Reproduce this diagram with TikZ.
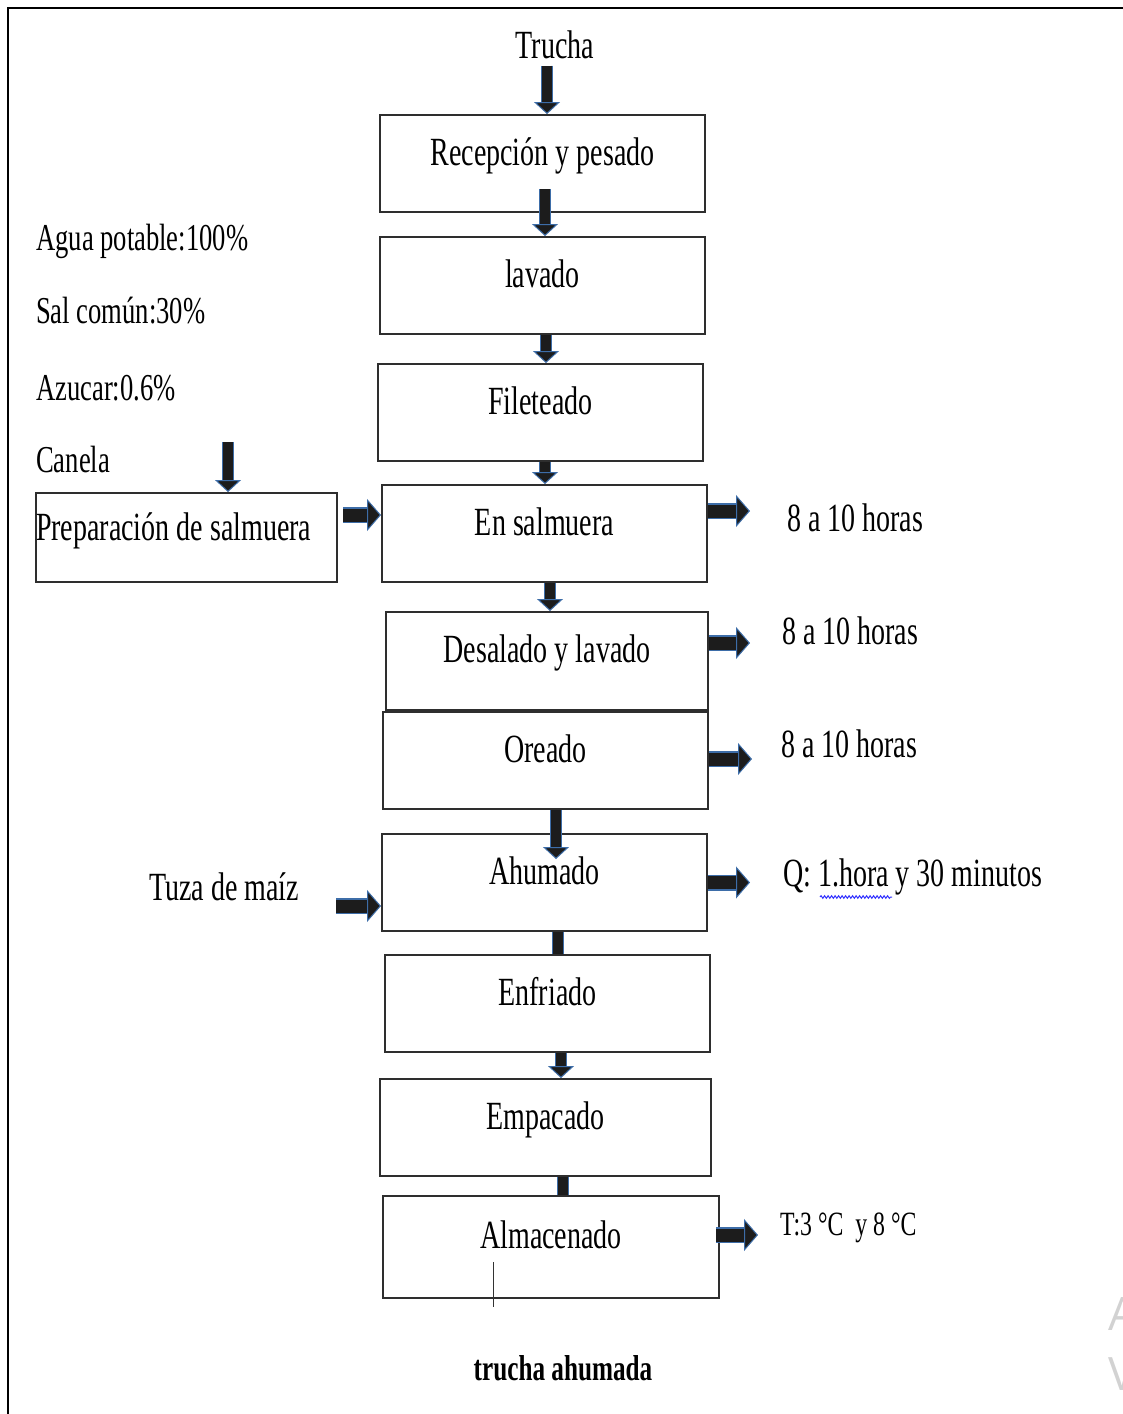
\documentclass[tikz,border=0pt]{standalone}
\usepackage{fontspec}
\setmainfont{Liberation Serif}[FakeStretch=0.7]
\newfontfamily\marcaagua{Open Sans}
\usetikzlibrary{arrows.meta, positioning, decorations.pathmorphing}
\definecolor{negroflecha}{HTML}{1C1C1C}
\definecolor{bordeazul}{HTML}{3D6DA8}
\definecolor{bordecaja}{HTML}{2E2E2E}
\newcommand{\letra}{\fontsize{40}{48}\selectfont}
\newcommand{\letramedia}{\fontsize{38}{46}\selectfont}
\newcommand{\letrachica}{\fontsize{34}{40}\selectfont}
\tikzset{
    paso/.style={rectangle, draw=bordecaja, line width=2pt, fill=white, minimum width=325pt, minimum height=97pt, inner ysep=0pt, text height=30pt, text depth=27pt, font=\letra},
    prepbox/.style={paso, minimum width=301pt, minimum height=89pt, text width=301pt, inner xsep=0pt, align=flush left, text depth=25pt},
    etiqueta/.style={inner sep=0pt, font=\letra},
    flujo/.style={draw=negroflecha, line width=9.5pt, -{Triangle[length=12pt, width=26pt, line width=1pt, color=bordeazul, fill=negroflecha]}, preaction={draw=bordeazul, line width=12pt, arrows=-, shorten >=11pt}},
    salida/.style={draw=negroflecha, line width=13pt, -{Triangle[length=14pt, width=32pt, line width=1pt, color=bordeazul, fill=negroflecha]}, preaction={draw=bordeazul, line width=16pt, arrows=-, shorten >=13pt}},
    tramo/.style={draw=negroflecha, line width=9.5pt, preaction={draw=bordeazul, line width=12pt}}
}
\begin{document}
\begin{tikzpicture}[x=1pt, y=-1pt]
        \useasboundingbox (0,0) rectangle (1123,1414);
        \draw[line width=2.5pt] (1123,8) -- (8,8) -- (8,1414); % marco

        % Proceso principal
        \node[etiqueta, anchor=base] (trucha) at (555,58) {Trucha};
        \node[paso] (recepcion) at (542.5,163.5) {Recepción y pesado};
        \node[paso] (lavado) at (542.5,285.5) {lavado};
        \node[paso] (fileteado) at (540.5,412.5) {Fileteado};
        \node[paso] (salmuera) at (544.5,533.5) {En salmuera};
        \node[paso, minimum width=322pt, minimum height=98pt] (desalado) at (547,661) {Desalado y lavado};
        \node[paso] (oreado) at (545.5,760.5) {Oreado};
        \node[paso] (ahumado) at (544.5,882.5) {Ahumado};
        \node[paso] (enfriado) at (547.5,1003.5) {Enfriado};
        \node[paso, minimum width=331pt] (empacado) at (545.5,1127.5) {Empacado};
        \node[paso, minimum width=336pt, minimum height=102pt] (almacenado) at (551,1247) {Almacenado};
        \node[etiqueta, anchor=base, font=\fontsize{36}{42}\selectfont\bfseries] (producto) at (563,1380) {trucha ahumada};

        % Salmuera (izquierda)
        \node[etiqueta, anchor=base west, font=\letramedia] (agua) at (36,250) {Agua potable:100\%};
        \node[etiqueta, anchor=base west, font=\letramedia] (sal) at (36,323) {Sal común:30\%};
        \node[etiqueta, anchor=base west, font=\letramedia] (azucar) at (36,400) {Azucar:0.6\%};
        \node[etiqueta, anchor=base west, font=\letramedia] (canela) at (36,472) {Canela};
        \node[prepbox] (prep) at (186.5,537.5) {Preparación de salmuera};
        \node[etiqueta, anchor=base west] (tuza) at (149,900) {Tuza de maíz};

        % Condiciones (derecha)
        \node[etiqueta, anchor=base west] (h1) at (787,531) {8 a 10 horas};
        \node[etiqueta, anchor=base west] (h2) at (782,644) {8 a 10 horas};
        \node[etiqueta, anchor=base west] (h3) at (781,757) {8 a 10 horas};
        \node[etiqueta, anchor=base west] (q) at (783,886) {Q: 1.hora y 30 minutos};
        \node[etiqueta, anchor=base west, font=\letrachica] (temp) at (780,1235) {T:3 °C\ \ y 8 °C};

        % Flechas verticales
        \draw[flujo] ([xshift=-8pt,yshift=-7pt]trucha.south) -- ([xshift=4.5pt]recepcion.north);
        \draw[flujo] ([xshift=2.5pt,yshift=24pt]recepcion.south) -- ([xshift=2.5pt]lavado.north);
        \draw[flujo] ([xshift=3.5pt]lavado.south) -- ([xshift=5.5pt]fileteado.north);
        \draw[flujo] ([xshift=4.5pt]fileteado.south) -- ([xshift=0.5pt]salmuera.north);
        \draw[flujo] ([xshift=5.5pt]salmuera.south) -- ([xshift=3pt]desalado.north);
        \draw[flujo] ([xshift=10.5pt]oreado.south) -- ([xshift=11.5pt,yshift=-26pt]ahumado.north);
        \draw[tramo] ([xshift=13.5pt]ahumado.south) -- ([xshift=10.5pt]enfriado.north);
        \draw[flujo] ([xshift=13.5pt]enfriado.south) -- ([xshift=15.5pt]empacado.north);
        \draw[tramo] ([xshift=17.5pt]empacado.south) -- ([xshift=12pt]almacenado.north);
        \draw[flujo] ([xshift=41.5pt,yshift=50pt]prep.north) -- ([xshift=41.5pt]prep.north);

        % Flechas horizontales
        \draw[salida] ([xshift=5pt,yshift=22.5pt]prep.east) -- ([yshift=18.5pt]salmuera.west);
        \draw[salida] ([xshift=37pt,yshift=-23.5pt]ahumado.west -| tuza.east) -- ([yshift=-23.5pt]ahumado.west);
        \draw[salida] ([yshift=22.5pt]salmuera.east) -- ([xshift=-37pt,yshift=22.5pt]salmuera.east -| h1.west);
        \draw[salida] ([yshift=18pt]desalado.east) -- ([xshift=-32pt,yshift=18pt]desalado.east -| h2.west);
        \draw[salida] ([yshift=1.5pt]oreado.east) -- ([xshift=-29pt,yshift=1.5pt]oreado.east -| h3.west);
        \draw[salida] (ahumado.east) -- ([xshift=-33pt]ahumado.east -| q.west);
        \draw[salida] ([xshift=-4pt,yshift=12pt]almacenado.east) -- ([xshift=-22pt,yshift=12pt]almacenado.east -| temp.west);

        % Detalles de la captura
        \draw[draw=blue!80, line width=1pt, decorate, decoration={snake, amplitude=1.3pt, segment length=3.5pt}] (820,897) -- (892,897);
        \draw[line width=1pt, black!80] (493,1262) -- (493,1307);
        \node[anchor=base west, inner sep=0pt, text=gray!35, font=\marcaagua\fontsize{46}{50}\selectfont] (marca1) at (1108,1330) {A};
        \node[anchor=base west, inner sep=0pt, text=gray!35, font=\marcaagua\fontsize{46}{50}\selectfont] (marca2) at (1108,1390) {V};
    \end{tikzpicture}
\end{document}
